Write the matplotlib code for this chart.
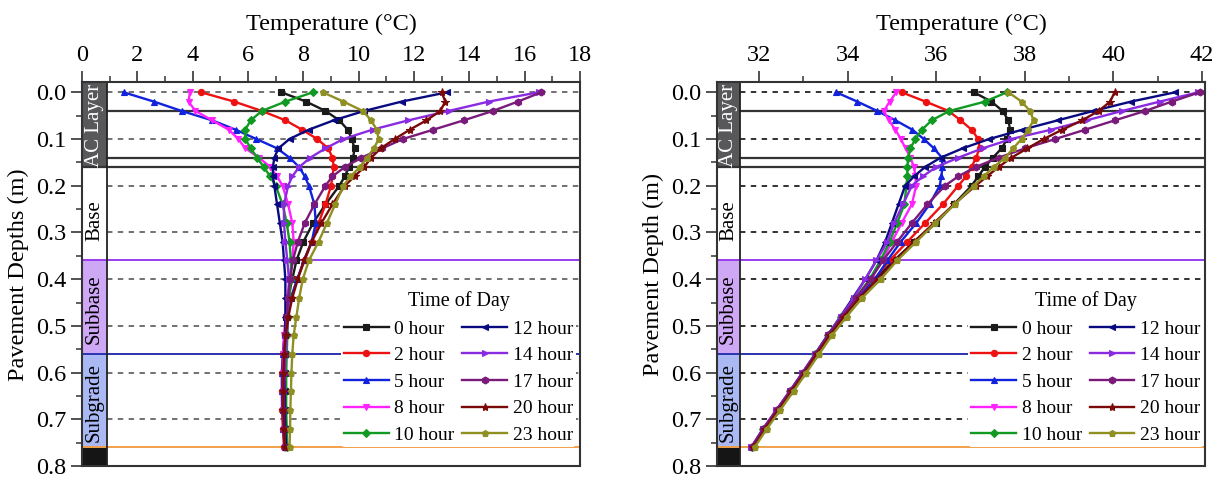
import matplotlib
matplotlib.use('Agg')
import matplotlib.pyplot as plt
from matplotlib.patches import Rectangle
from matplotlib.transforms import blended_transform_factory
from matplotlib.ticker import MultipleLocator, FormatStrFormatter

plt.rcParams['font.family'] = ['Liberation Serif', 'DejaVu Serif']

depths = [0.00, 0.02, 0.04, 0.06, 0.08, 0.10, 0.12, 0.14, 0.16, 0.18, 0.20,
          0.24, 0.28, 0.32, 0.36, 0.40, 0.44, 0.48, 0.52, 0.56, 0.60, 0.64,
          0.68, 0.72, 0.76]

hours = ['0 hour', '2 hour', '5 hour', '8 hour', '10 hour',
         '12 hour', '14 hour', '17 hour', '20 hour', '23 hour']

# Left panel (°C)
L_0h = [7.2, 8.1, 8.8, 9.3, 9.6, 9.75, 9.85, 9.8, 9.65, 9.5, 9.3, 8.8, 8.35, 8.0, 7.75, 7.6, 7.45, 7.38, 7.33, 7.3, 7.3, 7.3, 7.3, 7.32, 7.35]
L_2h = [4.3, 5.5, 6.5, 7.35, 7.95, 8.5, 8.9, 9.05, 9.1, 9.05, 9.0, 8.8, 8.55, 8.3, 8.05, 7.78, 7.55, 7.42, 7.32, 7.26, 7.22, 7.22, 7.23, 7.26, 7.3]
L_5h = [1.5, 2.6, 3.6, 4.7, 5.55, 6.3, 7.05, 7.5, 7.85, 8.05, 8.2, 8.4, 8.45, 8.3, 8.02, 7.78, 7.56, 7.42, 7.32, 7.26, 7.24, 7.24, 7.25, 7.28, 7.32]
L_8h = [3.9, 3.85, 4.1, 4.7, 5.3, 5.65, 5.9, 6.4, 6.8, 7.05, 7.25, 7.45, 7.6, 7.65, 7.6, 7.5, 7.42, 7.36, 7.3, 7.28, 7.27, 7.27, 7.28, 7.3, 7.33]
L_10h = [8.35, 7.35, 6.5, 6.1, 5.9, 5.9, 6.1, 6.33, 6.57, 6.8, 7.0, 7.25, 7.4, 7.5, 7.55, 7.55, 7.5, 7.45, 7.42, 7.4, 7.38, 7.38, 7.38, 7.4, 7.42]
L_12h = [13.2, 11.55, 10.2, 9.1, 8.2, 7.5, 7.1, 6.95, 6.9, 6.9, 6.95, 7.05, 7.15, 7.25, 7.3, 7.35, 7.35, 7.35, 7.34, 7.33, 7.33, 7.33, 7.34, 7.35, 7.38]
L_14h = [16.5, 14.7, 13.25, 11.8, 10.5, 9.45, 8.8, 8.25, 7.85, 7.6, 7.45, 7.3, 7.3, 7.35, 7.42, 7.48, 7.48, 7.45, 7.4, 7.36, 7.33, 7.3, 7.3, 7.3, 7.32]
L_17h = [16.6, 15.75, 14.85, 13.8, 12.7, 11.6, 10.85, 10.1, 9.5, 9.05, 8.8, 8.4, 8.05, 7.8, 7.62, 7.52, 7.45, 7.4, 7.35, 7.32, 7.3, 7.28, 7.28, 7.3, 7.33]
L_20h = [13.0, 13.13, 12.95, 12.45, 11.85, 11.3, 10.8, 10.45, 10.2, 9.85, 9.5, 9.05, 8.65, 8.3, 8.02, 7.8, 7.6, 7.46, 7.36, 7.3, 7.28, 7.28, 7.28, 7.3, 7.33]
L_23h = [8.7, 9.45, 10.15, 10.45, 10.65, 10.72, 10.55, 10.3, 10.05, 9.7, 9.45, 9.15, 8.85, 8.55, 8.2, 7.98, 7.85, 7.75, 7.65, 7.6, 7.57, 7.55, 7.53, 7.52, 7.5]

# Right panel (°C)
R_0h = [36.85, 37.25, 37.5, 37.63, 37.67, 37.6, 37.48, 37.28, 37.1, 36.95, 36.8, 36.4, 36.0, 35.5, 35.05, 34.62, 34.24, 33.9, 33.58, 33.3, 33.02, 32.72, 32.43, 32.13, 31.86]
R_2h = [35.22, 35.76, 36.28, 36.55, 36.8, 36.95, 36.98, 36.9, 36.8, 36.68, 36.5, 36.15, 35.75, 35.35, 34.95, 34.6, 34.22, 33.88, 33.57, 33.29, 33.0, 32.71, 32.41, 32.11, 31.84]
R_5h = [33.74, 34.22, 34.67, 35.08, 35.46, 35.72, 35.95, 36.13, 36.14, 36.12, 36.08, 35.85, 35.55, 35.2, 34.9, 34.62, 34.24, 33.9, 33.58, 33.3, 33.01, 32.72, 32.42, 32.12, 31.85]
R_8h = [35.1, 34.95, 34.82, 34.93, 35.08, 35.2, 35.31, 35.42, 35.5, 35.53, 35.55, 35.45, 35.22, 35.0, 34.78, 34.52, 34.2, 33.87, 33.56, 33.28, 32.99, 32.7, 32.4, 32.1, 31.83]
R_10h = [37.6, 37.1, 36.3, 35.9, 35.68, 35.53, 35.42, 35.37, 35.35, 35.35, 35.33, 35.28, 35.12, 34.95, 34.74, 34.5, 34.18, 33.86, 33.55, 33.27, 32.99, 32.7, 32.4, 32.1, 31.83]
R_12h = [41.4, 40.4, 39.55, 38.75, 37.95, 37.2, 36.6, 36.1, 35.75, 35.5, 35.3, 35.15, 35.0, 34.85, 34.65, 34.4, 34.12, 33.84, 33.55, 33.27, 32.99, 32.7, 32.4, 32.1, 31.83]
R_14h = [41.92, 41.05, 40.2, 39.4, 38.6, 37.7, 37.05, 36.5, 36.0, 35.7, 35.45, 35.25, 35.05, 34.9, 34.65, 34.4, 34.14, 33.85, 33.55, 33.27, 32.98, 32.69, 32.39, 32.09, 31.82]
R_17h = [41.95, 41.32, 40.72, 40.04, 39.37, 38.69, 38.01, 37.41, 36.89, 36.5, 36.2, 35.8, 35.45, 35.12, 34.8, 34.52, 34.2, 33.87, 33.56, 33.28, 32.99, 32.7, 32.4, 32.1, 31.83]
R_20h = [40.03, 39.93, 39.67, 39.3, 38.85, 38.43, 38.06, 37.7, 37.41, 37.15, 36.89, 36.4, 35.95, 35.5, 35.08, 34.68, 34.27, 33.92, 33.6, 33.31, 33.03, 32.74, 32.44, 32.14, 31.87]
R_23h = [37.63, 37.93, 38.12, 38.2, 38.08, 37.93, 37.74, 37.56, 37.3, 37.07, 36.85, 36.42, 35.98, 35.55, 35.12, 34.75, 34.33, 33.98, 33.65, 33.36, 33.07, 32.78, 32.48, 32.18, 31.9]

left_series = [L_0h, L_2h, L_5h, L_8h, L_10h, L_12h, L_14h, L_17h, L_20h, L_23h]
right_series = [R_0h, R_2h, R_5h, R_8h, R_10h, R_12h, R_14h, R_17h, R_20h, R_23h]

colors = ['#1a1a1a', '#ee1111', '#1122dd', '#ff22ff', '#119a22',
          '#0a0a80', '#8a2be2', '#7a1a7a', '#7a0a0a', '#8f8f22']
markers = ['s', 'o', '^', 'v', 'D', '<', '>', 'h', '*', 'p']
msizes = [4, 4.5, 5, 5, 4, 5, 5, 5, 6, 5]

layer_names = ['AC Layer', 'Base', 'Subbase', 'Subgrade']
layer_bounds = [(-0.03, 0.16), (0.16, 0.36), (0.36, 0.56), (0.56, 0.76), (0.76, 0.80)]
layer_fill = ['#58585a', '#ffffff', '#cfa8f5', '#aab9f3', '#151515']
layer_text_y = [0.07, 0.275, 0.465, 0.665]
layer_text_col = ['white', 'black', 'black', 'black']

fig = plt.figure(figsize=(12.26, 4.78), dpi=100)
axL = fig.add_axes([0.0669, 0.025, 0.4062, 0.8025])
axR = fig.add_axes([0.5848, 0.025, 0.398, 0.8025])


def panel(ax, series, xlim, xmaj, xmin_loc, ylabel, strip_w, dash_col, leg_x):
    ax.set_xlim(*xlim)
    ax.set_ylim(0.8, -0.021)
    tr = blended_transform_factory(ax.transAxes, ax.transData)
    for (y0, y1), fc in zip(layer_bounds, layer_fill):
        ax.add_patch(Rectangle((0, y0), strip_w, y1 - y0, transform=tr,
                               facecolor=fc, edgecolor='none', zorder=1))
    ax.axvline(strip_w * (xlim[1] - xlim[0]) + xlim[0], color='#222222', lw=1.3, zorder=2)
    for name, yy, tc in zip(layer_names, layer_text_y, layer_text_col):
        ax.text(strip_w / 2, yy, name, transform=tr, rotation=90, ha='center',
                va='center', fontsize=15, color=tc, zorder=2)
    for yv in [0.0, 0.1, 0.2, 0.3, 0.4, 0.5, 0.6, 0.7]:
        ax.axhline(yv, xmin=strip_w, xmax=1, color=dash_col, lw=1.3,
                   dashes=(3, 3), zorder=1.5)
    for yv in [0.04, 0.14]:
        ax.axhline(yv, xmin=strip_w, xmax=1, color='#333333', lw=1.6, zorder=1.5)
    ax.axhline(0.16, color='#333333', lw=1.6, zorder=1.5)
    ax.axhline(0.36, color='#9a3cf0', lw=1.4, zorder=1.5)
    ax.axhline(0.56, color='#2a33b0', lw=1.4, zorder=1.5)
    ax.axhline(0.76, color='#f2a048', lw=1.4, zorder=1.5)

    handles = []
    for vals, c, m, ms, lab in zip(series, colors, markers, msizes, hours):
        h, = ax.plot(vals, depths, color=c, marker=m, markersize=ms, lw=1.7,
                     markeredgewidth=0.8, label=lab, zorder=3)
        handles.append(h)

    ax.xaxis.tick_top()
    ax.xaxis.set_label_position('top')
    ax.set_xticks(xmaj)
    ax.xaxis.set_minor_locator(MultipleLocator(xmin_loc))
    ax.yaxis.set_major_locator(MultipleLocator(0.1))
    ax.yaxis.set_minor_locator(MultipleLocator(0.05))
    ax.yaxis.set_major_formatter(FormatStrFormatter('%.1f'))
    ax.tick_params(axis='both', which='major', direction='out', length=8,
                   width=1.2, labelsize=17.5, color='#333333')
    ax.tick_params(axis='both', which='minor', direction='out', length=4,
                   width=1.1, color='#333333')
    ax.tick_params(axis='x', which='both', top=True, bottom=False, pad=4)
    ax.tick_params(axis='y', which='both', left=True, right=False, pad=3)
    ax.set_xlabel('Temperature (°C)', fontsize=17.5, labelpad=11)
    ax.set_ylabel(ylabel, fontsize=17.5, labelpad=5)
    for s in ax.spines.values():
        s.set_linewidth(1.5)
        s.set_color('#333333')
        s.set_zorder(6)

    leg = ax.legend(handles=handles, ncol=2, title='Time of Day',
                    loc='lower left', bbox_to_anchor=(leg_x, 0.05),
                    fontsize=14, title_fontsize=14.5, frameon=True,
                    facecolor='white', edgecolor='none', framealpha=1,
                    handlelength=2.3, handletextpad=0.3, columnspacing=0.4,
                    labelspacing=0.46, borderpad=0.15, borderaxespad=0,
                    numpoints=1)
    leg.set_zorder(5)


panel(axL, left_series, (0, 18), [0, 2, 4, 6, 8, 10, 12, 14, 16, 18], 1,
      'Pavement Depths (m)', 0.050, '#666666', 0.52)
panel(axR, right_series, (31.05, 42.07), [32, 34, 36, 38, 40, 42], 1,
      'Pavement Depth (m)', 0.047, '#222222', 0.515)

fig.savefig('out.png', dpi=100)
